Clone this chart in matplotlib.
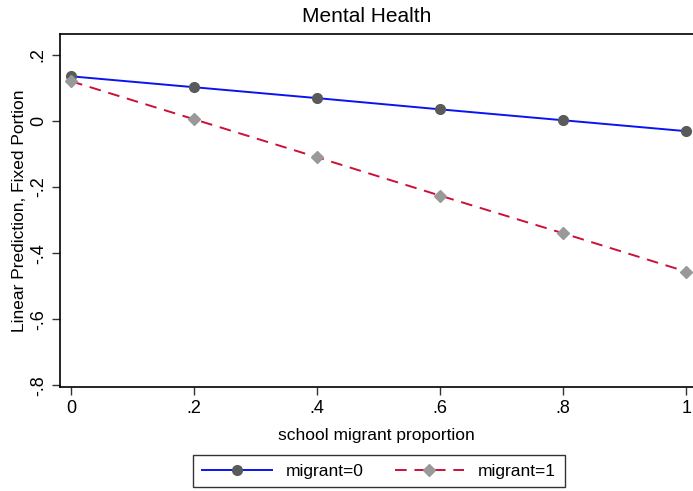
import numpy as np
import matplotlib.pyplot as plt

# school migrant proportion
x = [0, 0.2, 0.4, 0.6, 0.8, 1.0]
# linear prediction, fixed portion
pred_m0 = [0.135, 0.102, 0.069, 0.035, 0.002, -0.031]
pred_m1 = [0.120, 0.005, -0.110, -0.226, -0.340, -0.456]

xticks = [0, 0.2, 0.4, 0.6, 0.8, 1.0]
xticklabels = ["0", ".2", ".4", ".6", ".8", "1"]
yticks = [0.2, 0, -0.2, -0.4, -0.6, -0.8]
yticklabels = [".2", "0", "-.2", "-.4", "-.6", "-.8"]

plt.rcParams['font.family'] = ['Liberation Sans', 'DejaVu Sans']

fig = plt.figure(figsize=(6.93, 4.91), dpi=100)
ax = fig.add_axes([60/693, 1 - 387/491, 1 - 60/693, (387 - 34)/491])

ax.plot(x, pred_m0, color='#0a14f0', linewidth=1.4, marker='o', markersize=7,
        markerfacecolor='#5a5a5a', markeredgecolor='#5a5a5a', label='migrant=0')
ax.plot(x, pred_m1, color='#cc1038', linewidth=1.4, linestyle=(0, (6, 4)), marker='D',
        markersize=6.5, markerfacecolor='#999999', markeredgecolor='#999999', label='migrant=1')

ax.set_xlim(-0.018, 1.011)
ax.set_ylim(-0.805, 0.263)
ax.set_xticks(xticks)
ax.set_xticklabels(xticklabels, fontsize=13)
ax.set_yticks(yticks)
ax.set_yticklabels(yticklabels, fontsize=13, rotation=90, va='center')
ax.tick_params(length=6, width=1, color='#333333')
ax.spines['right'].set_visible(False)
for s in ['left', 'top', 'bottom']:
    ax.spines[s].set_linewidth(1.2)

ax.set_xlabel('school migrant proportion', fontsize=12.5, labelpad=8)
ax.set_ylabel('Linear Prediction, Fixed Portion', fontsize=12.5, labelpad=2)
fig.text(367/693, 1 - 17/491, 'Mental Health', ha='center', va='center', fontsize=15)

leg = fig.legend(loc='center', bbox_to_anchor=(379/693, 1 - 471/491), ncol=2, fontsize=12.5,
                 frameon=True, fancybox=False, edgecolor='black', handlelength=4,
                 columnspacing=1.8, borderpad=0.5)
leg.get_frame().set_linewidth(1.0)

fig.savefig('out.png', dpi=100)
